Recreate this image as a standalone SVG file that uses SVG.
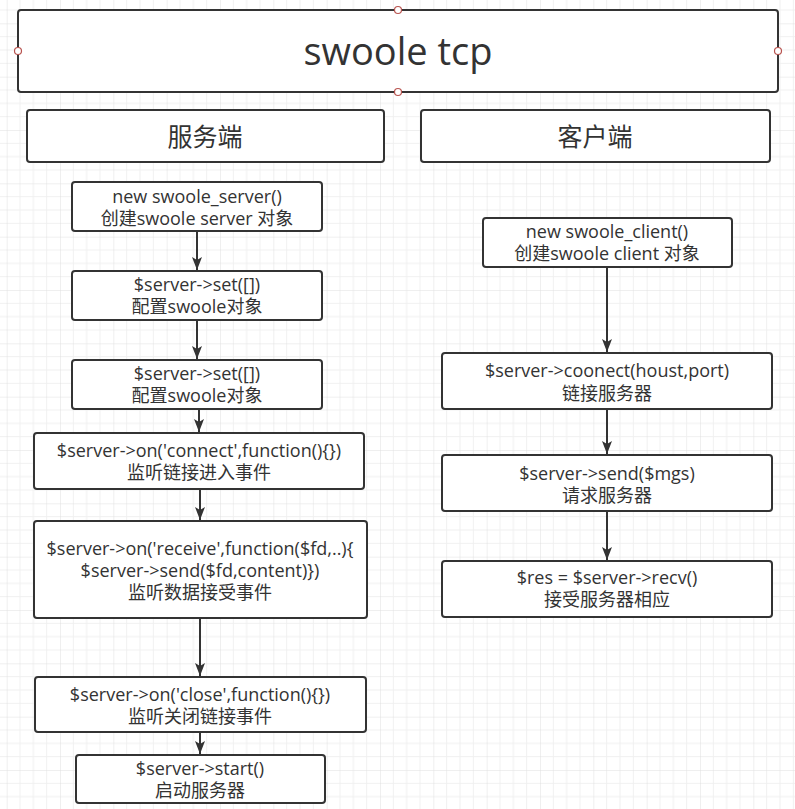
<svg xmlns="http://www.w3.org/2000/svg" width="795" height="809" viewBox="0 0 795 809">
<style>
.box{fill:#fff;stroke:#333;stroke-width:2}
.t{font-family:"Open Sans","Noto Sans CJK SC",sans-serif;font-size:18px;fill:#333;text-anchor:middle}
.h{font-family:"Open Sans","Noto Sans CJK SC",sans-serif;font-size:25px;fill:#333;text-anchor:middle}
.edge{stroke:#333;stroke-width:2;fill:none;marker-end:url(#arr)}
.pt{fill:#fff;stroke:#b85450;stroke-width:1.2}
</style>
<defs>
<pattern id="grid" x="6.667" y="23.333" width="53.333" height="53.333" patternUnits="userSpaceOnUse">
<path d="M13.333 0V53.333M26.667 0V53.333M40 0V53.333M0 13.333H53.333M0 26.667H53.333M0 40H53.333" stroke="#f0f0f0" stroke-width="1" fill="none"/>
<path d="M0 0V53.333M0 0H53.333" stroke="#e0e0e0" stroke-width="1" fill="none"/>
</pattern>
<marker id="arr" markerUnits="userSpaceOnUse" markerWidth="14" markerHeight="12" refX="13" refY="5" orient="auto">
<path d="M0,0 L13,5 L0,10 L3,5 Z" fill="#333"/>
</marker>
</defs>
<rect width="795" height="809" fill="#fff"/>
<rect width="795" height="809" fill="url(#grid)"/>

<g id="title">
<rect class="box" x="18" y="10" width="760" height="82" rx="3"/>
<text x="398" y="65" font-family="Open Sans, sans-serif" font-size="38" fill="#333" text-anchor="middle">swoole tcp</text>
<circle class="pt" cx="398" cy="10" r="3.5"/>
<circle class="pt" cx="398" cy="92" r="3.5"/>
<circle class="pt" cx="18" cy="51" r="3.5"/>
<circle class="pt" cx="778" cy="51" r="3.5"/>
</g>

<g id="server-header">
<rect class="box" x="27" y="110" width="357" height="52" rx="3"/>
<text class="h" x="205" y="146">服务端</text>
</g>
<g id="client-header">
<rect class="box" x="421" y="110" width="349" height="52" rx="3"/>
<text class="h" x="595" y="146">客户端</text>
</g>

<g id="connectors">
<line class="edge" x1="197" y1="231" x2="197" y2="270"/>
<line class="edge" x1="197" y1="320" x2="197" y2="359"/>
<line class="edge" x1="199" y1="409" x2="199" y2="432"/>
<line class="edge" x1="200" y1="489" x2="200" y2="520"/>
<line class="edge" x1="200" y1="618" x2="200" y2="676"/>
<line class="edge" x1="200" y1="732" x2="200" y2="754"/>
<line class="edge" x1="607" y1="267" x2="607" y2="352"/>
<line class="edge" x1="607" y1="409" x2="607" y2="454"/>
<line class="edge" x1="607" y1="511" x2="607" y2="560"/>
</g>

<g id="s1">
<rect class="box" x="72" y="182" width="250" height="49" rx="3"/>
<text class="t"><tspan x="197" y="202.5">new swoole_server()</tspan><tspan x="197" y="224.5">创建swoole server 对象</tspan></text>
</g>
<g id="s2">
<rect class="box" x="72" y="271" width="250" height="49" rx="3"/>
<text class="t"><tspan x="197" y="291">$server-&gt;set([])</tspan><tspan x="197" y="313">配置swoole对象</tspan></text>
</g>
<g id="s3">
<rect class="box" x="72" y="360" width="250" height="49" rx="3"/>
<text class="t"><tspan x="197" y="380">$server-&gt;set([])</tspan><tspan x="197" y="402">配置swoole对象</tspan></text>
</g>
<g id="s4">
<rect class="box" x="34" y="433" width="330" height="56" rx="3"/>
<text class="t"><tspan x="199" y="457">$server-&gt;on('connect',function(){})</tspan><tspan x="199" y="479">监听链接进入事件</tspan></text>
</g>
<g id="s5">
<rect class="box" x="34" y="521" width="333" height="97" rx="3"/>
<text class="t"><tspan x="200" y="554.5">$server-&gt;on('receive',function($fd,..){</tspan><tspan x="200" y="577">$server-&gt;send($fd,content)})</tspan><tspan x="200" y="599">监听数据接受事件</tspan></text>
</g>
<g id="s6">
<rect class="box" x="35" y="677" width="331" height="55" rx="3"/>
<text class="t"><tspan x="200" y="700.5">$server-&gt;on('close',function(){})</tspan><tspan x="200" y="722.5">监听关闭链接事件</tspan></text>
</g>
<g id="s7">
<rect class="box" x="76" y="755" width="249" height="48" rx="3"/>
<text class="t"><tspan x="200" y="775">$server-&gt;start()</tspan><tspan x="200" y="797">启动服务器</tspan></text>
</g>

<g id="c1">
<rect class="box" x="483" y="218" width="249" height="49" rx="3"/>
<text class="t"><tspan x="607" y="238">new swoole_client()</tspan><tspan x="607" y="260">创建swoole client 对象</tspan></text>
</g>
<g id="c2">
<rect class="box" x="442" y="353" width="330" height="56" rx="3"/>
<text class="t"><tspan x="607" y="377">$server-&gt;coonect(houst,port)</tspan><tspan x="607" y="399.5">链接服务器</tspan></text>
</g>
<g id="c3">
<rect class="box" x="442" y="455" width="330" height="56" rx="3"/>
<text class="t"><tspan x="607" y="479.5">$server-&gt;send($mgs)</tspan><tspan x="607" y="502">请求服务器</tspan></text>
</g>
<g id="c4">
<rect class="box" x="442" y="561" width="330" height="56" rx="3"/>
<text class="t"><tspan x="607" y="584">$res = $server-&gt;recv()</tspan><tspan x="607" y="606">接受服务器相应</tspan></text>
</g>
</svg>
